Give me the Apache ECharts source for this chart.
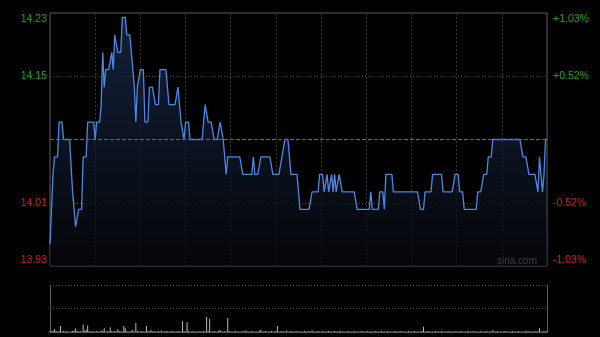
<!DOCTYPE html>
<html>
<head>
<meta charset="utf-8">
<script src="https://cdn.jsdelivr.net/npm/echarts@6/dist/echarts.min.js"></script>
<style>
html,body{margin:0;padding:0;background:#000;}
#chart{width:600px;height:337px;}
</style>
</head>
<body>
<div id="chart"></div>
<script>
// ---- data ----
var prevClose = 14.08;
var priceMin = 13.935;
var priceMax = 14.225;
var priceTicks = [13.935, 14.0075, 14.1525, 14.225];
var priceTickLabels = ['13.93', '14.01', '14.15', '14.23'];
var pctMin = -1.03;
var pctMax = 1.03;
var pctTicks = [-1.03, -0.52, 0.52, 1.03];
var pctTickLabels = ['-1.03%', '-0.52%', '+0.52%', '+1.03%'];

var prices = [
13.96,14.00,14.04,14.06,14.06,14.06,14.10,14.10,14.10,14.08,
14.08,14.08,14.08,14.08,14.08,14.02,14.02,13.98,13.98,14.00,
14.00,14.00,14.06,14.06,14.06,14.10,14.10,14.10,14.10,14.10,
14.08,14.10,14.10,14.10,14.12,14.18,14.14,14.16,14.16,14.16,
14.16,14.18,14.16,14.20,14.20,14.18,14.18,14.18,14.22,14.22,
14.22,14.20,14.20,14.20,14.18,14.18,14.14,14.10,14.14,14.14,
14.16,14.16,14.16,14.10,14.10,14.10,14.14,14.14,14.14,14.14,
14.12,14.12,14.12,14.16,14.16,14.16,14.16,14.16,14.16,14.12,
14.12,14.12,14.12,14.12,14.12,14.14,14.14,14.10,14.10,14.08,
14.10,14.10,14.10,14.08,14.08,14.08,14.08,14.08,14.08,14.08,
14.08,14.08,14.08,14.12,14.12,14.10,14.10,14.10,14.10,14.08,
14.08,14.08,14.08,14.10,14.10,14.08,14.08,14.04,14.06,14.06,
14.06,14.06,14.06,14.06,14.06,14.06,14.06,14.06,14.04,14.04,
14.04,14.04,14.04,14.04,14.04,14.06,14.04,14.04,14.04,14.04,
14.06,14.06,14.06,14.06,14.06,14.06,14.06,14.06,14.04,14.04,
14.04,14.04,14.04,14.04,14.06,14.06,14.08,14.08,14.08,14.08,
14.04,14.04,14.04,14.04,14.04,14.04,14.00,14.00,14.00,14.00,
14.00,14.00,14.00,14.00,14.02,14.02,14.02,14.02,14.02,14.04,
14.04,14.04,14.02,14.02,14.04,14.02,14.02,14.04,14.02,14.04,
14.02,14.02,14.04,14.04,14.02,14.02,14.02,14.02,14.02,14.02,
14.02,14.02,14.02,14.02,14.00,14.00,14.00,14.00,14.00,14.00,
14.00,14.00,14.00,14.02,14.00,14.00,14.00,14.00,14.00,14.02,
14.02,14.02,14.00,14.04,14.04,14.04,14.04,14.04,14.02,14.02,
14.02,14.02,14.02,14.02,14.02,14.02,14.02,14.02,14.02,14.02,
14.02,14.02,14.02,14.02,14.02,14.02,14.00,14.00,14.00,14.02,
14.02,14.02,14.02,14.02,14.04,14.04,14.04,14.04,14.04,14.04,
14.04,14.02,14.02,14.02,14.02,14.02,14.02,14.02,14.02,14.04,
14.04,14.04,14.02,14.02,14.02,14.00,14.00,14.00,14.00,14.00,
14.00,14.00,14.00,14.00,14.02,14.02,14.02,14.02,14.04,14.04,
14.04,14.06,14.06,14.06,14.08,14.08,14.08,14.08,14.08,14.08,
14.08,14.08,14.08,14.08,14.08,14.08,14.08,14.08,14.08,14.08,
14.08,14.08,14.08,14.08,14.06,14.06,14.06,14.06,14.04,14.04,
14.04,14.04,14.04,14.04,14.02,14.06,14.06,14.02,14.04,14.08,
14.08
];

var volumes = [
2,1,3,6,2,1,2,13,1,2,
1,2,1,0,1,2,3,8,2,1,
2,1,16,3,4,14,2,1,2,1,
1,2,1,1,3,2,8,1,2,1,
10,2,1,2,1,6,2,1,1,13,
8,2,1,1,2,4,1,19,2,1,
1,2,1,1,13,2,1,5,1,2,
1,1,2,1,3,1,1,2,1,1,
1,2,1,1,1,2,1,1,23,2,
1,21,2,1,1,2,1,1,1,2,
1,1,2,1,32,2,28,1,1,2,
1,1,2,4,1,1,2,1,30,2,
1,1,1,2,1,1,1,1,2,1,
3,1,1,1,2,1,1,1,1,2,
4,1,1,2,1,1,1,2,1,1,
2,13,1,1,2,1,1,3,1,1,
2,1,1,1,2,1,1,1,1,2,
1,1,2,1,3,1,1,1,2,1,
1,2,1,1,1,2,1,1,1,2,
1,1,1,2,1,1,1,1,2,1,
1,1,2,1,1,1,1,2,1,1,
1,2,1,1,1,1,2,1,1,1,
2,1,1,1,2,1,1,1,1,2,
1,1,1,2,1,1,1,1,2,1,
1,1,2,1,1,1,1,2,11,1,
1,2,1,1,1,1,2,1,1,1,
2,1,1,1,1,2,1,1,1,2,
1,1,1,2,1,1,1,1,2,1,
1,2,1,1,1,1,2,1,1,1,
2,1,1,1,4,1,1,2,1,1,
1,1,2,1,1,1,1,2,1,1,
1,2,1,1,1,1,3,1,2,1,
1,1,2,1,1,8,1,1,2,1,
2
];

// time categories (09:30-12:00, 13:01-16:00)
var times = [];
(function(){
  function fmt(m){var h=Math.floor(m/60),mm=m%60;return (h<10?'0':'')+h+':'+(mm<10?'0':'')+mm;}
  for (var m = 9*60+30; m <= 12*60; m++) times.push(fmt(m));
  for (var m2 = 13*60+1; m2 <= 16*60; m2++) times.push(fmt(m2));
})();

function findLabel(v, ticks){
  for (var i=0;i<ticks.length;i++){ if (Math.abs(ticks[i]-v) < 1e-6) return i; }
  return -1;
}

var GREEN = '#22a322', RED = '#d61e1e';
var labelFont = {fontFamily: 'Liberation Sans, Arial, sans-serif', fontSize: 10.5};
function richSet(){
  return {
    gt: Object.assign({color: GREEN, padding: [12,0,0,0]}, labelFont),
    g: Object.assign({color: GREEN}, labelFont),
    r: Object.assign({color: RED}, labelFont),
    rb: Object.assign({color: RED, padding: [0,0,12,0]}, labelFont)
  };
}
function styledLabel(v, ticks, labels, center){
  var i = findLabel(v, ticks);
  if (i < 0) return '';
  var key;
  if (i === ticks.length-1) key = 'gt';
  else if (i === 0) key = 'rb';
  else key = (ticks[i] > center) ? 'g' : 'r';
  return '{' + key + '|' + labels[i] + '}';
}

var chart = echarts.init(document.getElementById('chart'), null, {renderer: 'canvas'});
var option = {
  backgroundColor: '#000',
  animation: false,
  grid: [
    {left: 50, right: 53, top: 13, height: 253, show: true, borderColor: '#5a5a5a', borderWidth: 1, backgroundColor: 'transparent'},
    {left: 50, right: 53, top: 285, height: 47}
  ],
  xAxis: [
    {type: 'category', gridIndex: 0, data: times, boundaryGap: false,
     axisLine: {show: false}, axisTick: {show: false}, axisLabel: {show: false},
     splitLine: {show: true, interval: 29, lineStyle: {color: '#363636', width: 1, type: [2, 2]}}},
    {type: 'category', gridIndex: 1, data: times, boundaryGap: false,
     axisLine: {show: true, lineStyle: {color: '#5a5a5a', width: 1}}, axisTick: {show: false}, axisLabel: {show: false},
     splitLine: {show: false}}
  ],
  yAxis: [
    {type: 'value', gridIndex: 0, position: 'left', min: priceMin, max: priceMax, scale: true,
     axisLine: {show: false},
     axisTick: {show: false, customValues: [priceTicks[1], priceTicks[2]]},
     axisLabel: {show: true, margin: 3, customValues: priceTicks,
       formatter: function(v){ return styledLabel(v, priceTicks, priceTickLabels, prevClose); },
       rich: richSet()},
     splitLine: {show: true, lineStyle: {color: '#4a4a4a', width: 1, type: [1, 2]}}},
    {type: 'value', gridIndex: 0, position: 'right', min: pctMin, max: pctMax,
     axisLine: {show: false},
     axisTick: {show: false, customValues: pctTicks},
     axisLabel: {show: true, margin: 6, customValues: pctTicks,
       formatter: function(v){ return styledLabel(v, pctTicks, pctTickLabels, 0); },
       rich: richSet()},
     splitLine: {show: false}},
    {type: 'value', gridIndex: 1, position: 'left', min: 0, max: 100, interval: 50,
     axisLine: {show: true, lineStyle: {color: '#5a5a5a', width: 1}},
     axisTick: {show: false}, axisLabel: {show: false},
     splitLine: {show: true, lineStyle: {color: '#555', width: 1, type: [1, 2]}}},
    {type: 'value', gridIndex: 1, position: 'right', min: 0, max: 100, interval: 50,
     axisLine: {show: true, lineStyle: {color: '#5a5a5a', width: 1}},
     axisTick: {show: false}, axisLabel: {show: false}, splitLine: {show: false}}
  ],
  series: [
    {type: 'line', xAxisIndex: 0, yAxisIndex: 0, data: prices, showSymbol: false, symbol: 'none',
     lineStyle: {color: '#4d89e4', width: 1.3},
     areaStyle: {color: new echarts.graphic.LinearGradient(0, 0, 0, 1, [
        {offset: 0, color: '#1b2e52'}, {offset: 1, color: '#06080c'}])},
     markLine: {silent: true, symbol: 'none', label: {show: false},
       lineStyle: {color: '#6a6a6a', width: 1, type: [4, 2]},
       data: [{yAxis: prevClose}]},
     z: 3},
    {type: 'bar', xAxisIndex: 1, yAxisIndex: 2, data: volumes, barWidth: 1,
     itemStyle: {color: '#b8b8b8'}}
  ],
  graphic: [
    {type: 'text', right: 63, top: 256, silent: true,
     style: {text: 'sina.com', fill: '#b8b8b8', font: '10px "Liberation Sans", Arial, sans-serif'}}
  ]
};
chart.setOption(option);
</script>
</body>
</html>
